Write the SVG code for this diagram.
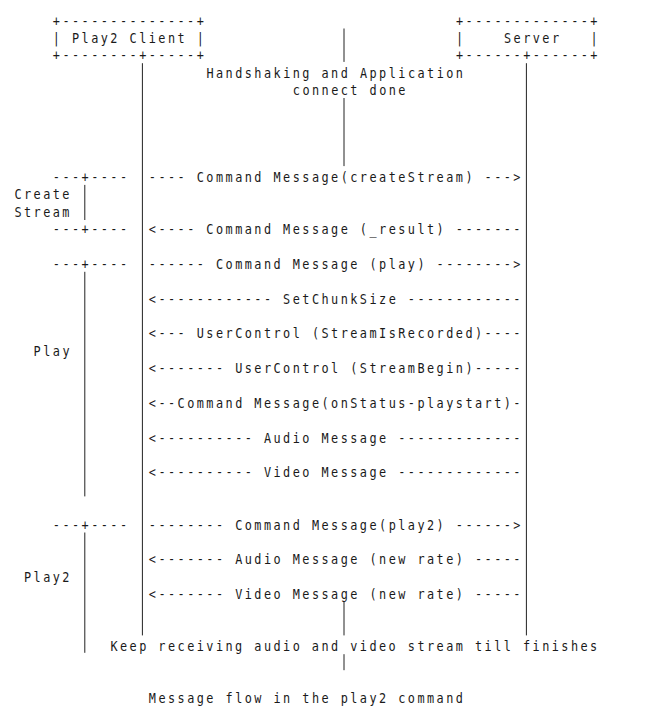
<svg xmlns="http://www.w3.org/2000/svg" width="649" height="723" viewBox="0 0 649 723">
<style>
  text { font-family: "DejaVu Sans Mono", "Liberation Mono", monospace; font-size: 14.8px; letter-spacing: 3.09px; fill: #1a1a1a; }
  .bar { stroke: #222; stroke-width: 1; fill: none; }
</style>
<rect x="0" y="0" width="649" height="723" fill="#ffffff"/>

<g id="client">
  <g transform="scale(0.8 1)">
    <text><tspan x="66" y="25.6">+--------------+</tspan><tspan x="66" y="42.98">| Play2 Client |</tspan><tspan x="66" y="60.36">+--------+-----+</tspan></text>
  </g>
  <line class="bar" x1="142.4" y1="63.2" x2="142.4" y2="635.4"/>
</g>

<g id="server">
  <g transform="scale(0.8 1)">
    <text><tspan x="570" y="25.6">+-------------+</tspan><tspan x="570" y="42.98">|</tspan><tspan x="630" y="42.98">Server</tspan><tspan x="738" y="42.98">|</tspan><tspan x="570" y="60.36">+------+------+</tspan></text>
  </g>
  <line class="bar" x1="526.4" y1="63.2" x2="526.4" y2="635.4"/>
</g>

<g id="handshake">
  <line class="bar" x1="344" y1="28.5" x2="344" y2="61.9"/>
  <g transform="scale(0.8 1)">
    <text><tspan x="258" y="77.74">Handshaking and Application</tspan><tspan x="366" y="95.12">connect done</tspan></text>
  </g>
  <line class="bar" x1="344" y1="98" x2="344" y2="166.1"/>
</g>

<g id="phase-create">
  <g transform="scale(0.8 1)">
    <text><tspan x="66" y="182.02">---+----</tspan><tspan x="18" y="199.4">Create</tspan><tspan x="18" y="216.78">Stream</tspan><tspan x="66" y="234.16">---+----</tspan></text>
  </g>
  <line class="bar" x1="84.8" y1="184.9" x2="84.8" y2="220"/>
</g>

<g id="phase-play">
  <g transform="scale(0.8 1)">
    <text x="66" y="268.92">---+----</text>
    <text x="42" y="355.82">Play</text>
  </g>
  <line class="bar" x1="84.8" y1="271.8" x2="84.8" y2="496.4"/>
</g>

<g id="phase-play2">
  <g transform="scale(0.8 1)">
    <text x="66" y="529.62">---+----</text>
    <text x="30" y="581.76">Play2</text>
  </g>
  <line class="bar" x1="84.8" y1="532.5" x2="84.8" y2="652.8"/>
</g>

<g id="connectors">
  <g transform="scale(0.8 1)">
    <text x="186" y="182.02">---- Command Message(createStream) ---&gt;</text>
    <text x="186" y="234.16">&lt;---- Command Message (_result) -------</text>
    <text x="186" y="268.92">------ Command Message (play) --------&gt;</text>
    <text x="186" y="303.68">&lt;------------ SetChunkSize ------------</text>
    <text x="186" y="338.44">&lt;--- UserControl (StreamIsRecorded)----</text>
    <text x="186" y="373.2">&lt;------- UserControl (StreamBegin)-----</text>
    <text x="186" y="407.96">&lt;--Command Message(onStatus-playstart)-</text>
    <text x="186" y="442.72">&lt;---------- Audio Message -------------</text>
    <text x="186" y="477.48">&lt;---------- Video Message -------------</text>
    <text x="186" y="529.62">-------- Command Message(play2) ------&gt;</text>
    <text x="186" y="564.38">&lt;------- Audio Message (new rate) -----</text>
    <text x="186" y="599.14">&lt;------- Video Message (new rate) -----</text>
  </g>
</g>

<g id="stream-note">
  <line class="bar" x1="344" y1="602" x2="344" y2="635.4"/>
  <g transform="scale(0.8 1)">
    <text x="138" y="651.28">Keep receiving audio and video stream till finishes</text>
  </g>
  <line class="bar" x1="344" y1="654.2" x2="344" y2="670.2"/>
</g>

<g id="caption">
  <g transform="scale(0.8 1)">
    <text x="186" y="703.42">Message flow in the play2 command</text>
  </g>
</g>
</svg>
